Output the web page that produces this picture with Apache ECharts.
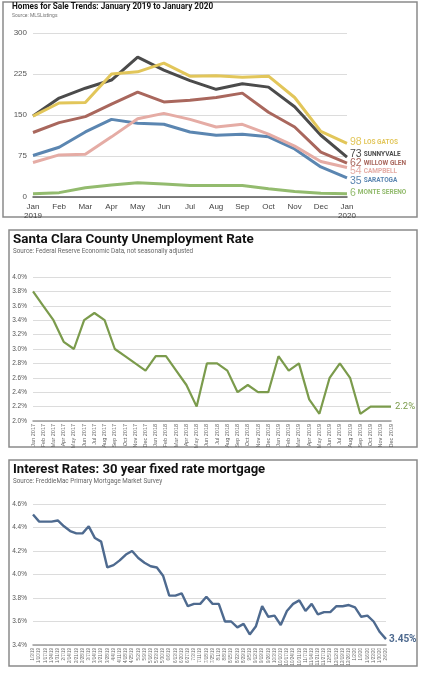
<!DOCTYPE html>
<html><head><meta charset="utf-8">
<script src="https://cdn.jsdelivr.net/npm/echarts@6/dist/echarts.min.js"></script>
<style>html,body{margin:0;padding:0;background:#fff}#c{width:424px;height:674px}</style>
</head><body><div id="c"></div>
<script>
// ---- Panel 1: Homes for sale ----
const homeMonths = ['Jan\n2019','Feb','Mar','Apr','May','Jun','Jul','Aug','Sep','Oct','Nov','Dec','Jan\n2020'];
const homeTicks = [0, 75, 150, 225, 300];
const losGatos   = [148, 172, 173, 225, 229, 245, 221, 222, 219, 221, 182, 120, 98];
const sunnyvale  = [148, 181, 199, 214, 256, 232, 213, 197, 207, 201, 165, 113, 73];
const willowGlen = [118, 136, 147, 170, 192, 174, 177, 182, 190, 155, 128, 82, 62];
const campbell   = [63, 77, 78, 110, 143, 153, 142, 128, 133, 115, 93, 65, 54];
const saratoga   = [76, 91, 119, 142, 135, 133, 119, 113, 115, 110, 88, 55, 35];
const monteSereno= [6, 8, 17, 22, 26, 24, 21, 21, 21, 15, 10, 7, 6];
const homeNames = ['LOS GATOS','SUNNYVALE','WILLOW GLEN','CAMPBELL','SARATOGA','MONTE SERENO'];

// ---- Panel 2: Unemployment ----
const unempMonths = ['Jan 2017','Feb 2017','Mar 2017','Apr 2017','May 2017','Jun 2017','Jul 2017','Aug 2017','Sep 2017','Oct 2017','Nov 2017','Dec 2017',
 'Jan 2018','Feb 2018','Mar 2018','Apr 2018','May 2018','Jun 2018','Jul 2018','Aug 2018','Sep 2018','Oct 2018','Nov 2018','Dec 2018',
 'Jan 2019','Feb 2019','Mar 2019','Apr 2019','May 2019','Jun 2019','Jul 2019','Aug 2019','Sep 2019','Oct 2019','Nov 2019','Dec 2019'];
const unempRate = [3.8,3.6,3.4,3.1,3.0,3.4,3.5,3.4,3.0,2.9,2.8,2.7,
 2.9,2.9,2.7,2.5,2.2,2.8,2.8,2.7,2.4,2.5,2.4,2.4,
 2.9,2.7,2.8,2.3,2.1,2.6,2.8,2.6,2.1,2.2,2.2,2.2];

// ---- Panel 3: Mortgage rates ----
const rateDates = ['1/3/19','1/10/19','1/17/19','1/24/19','1/31/19','2/7/19','2/14/19','2/21/19','2/28/19','3/7/19','3/14/19','3/21/19','3/28/19',
 '4/4/19','4/11/19','4/18/19','4/25/19','5/2/19','5/9/19','5/16/19','5/23/19','5/30/19','6/6/19','6/13/19','6/20/19','6/27/19',
 '7/3/19','7/11/19','7/18/19','7/25/19','8/1/19','8/8/19','8/15/19','8/22/19','8/29/19','9/5/19','9/12/19','9/19/19','9/26/19',
 '10/3/19','10/10/19','10/17/19','10/24/19','10/31/19','11/7/19','11/14/19','11/21/19','11/27/19','12/5/19','12/12/19','12/19/19','12/26/19',
 '1/2/20','1/9/20','1/16/20','1/23/20','1/30/20','2/6/20'];
const mortgageRate = [4.51,4.45,4.45,4.45,4.46,4.41,4.37,4.35,4.35,4.41,4.31,4.28,4.06,
 4.08,4.12,4.17,4.20,4.14,4.10,4.07,4.06,3.99,3.82,3.82,3.84,3.73,
 3.75,3.75,3.81,3.75,3.75,3.60,3.60,3.55,3.58,3.49,3.56,3.73,3.64,
 3.65,3.57,3.69,3.75,3.78,3.69,3.75,3.66,3.68,3.68,3.73,3.73,3.74,
 3.72,3.64,3.65,3.60,3.51,3.45];

const TF = 'Roboto, "Open Sans", sans-serif';
const AF = '"Liberation Sans Narrow", "Liberation Sans", Roboto, sans-serif';
const chart = echarts.init(document.getElementById('c'), null, {renderer:'canvas'});

const homeColors = ['#e2c65a','#4b4b4b','#a9675d','#e5aca5','#5b86b1','#93bb6e'];
const homeData = [losGatos, sunnyvale, willowGlen, campbell, saratoga, monteSereno];
const homeOffsets = [[0,-1],[0,-3],[0,0],[0,4],[0,3],[0,-1]];
const homeOrder = [5,4,3,2,1,0];
const homeSeries = homeOrder.map(i => ({
  type:'line', xAxisIndex:0, yAxisIndex:0, data: homeData[i], symbol:'none', z: 3+ (5-i),
  lineStyle:{color: homeColors[i], width:3}, itemStyle:{color: homeColors[i]},
  endLabel:{show:true, distance:3, offset: homeOffsets[i],
    formatter: p => '{n|' + p.value + '}{s|' + homeNames[i] + '}',
    rich:{
      n:{fontFamily:AF, fontSize:10.5, color: homeColors[i], padding:[0,2,0,0]},
      s:{fontFamily:TF, fontSize:6.5, fontWeight:'bold', color: homeColors[i]}
    }}
}));

const catAxisBase = (gi, data, lab) => ({
  type:'category', gridIndex: gi, data, boundaryGap:false,
  axisTick:{show:false}, axisLine:{show:true, lineStyle:{color:'#9a9a9a', width:1.5}},
  axisLabel: lab
});
const valAxisBase = (gi, min, max, interval, fmt, fs) => ({
  type:'value', gridIndex: gi, min, max, interval,
  axisLine:{show:false}, axisTick:{show:false},
  splitLine:{show:true, lineStyle:{color:'#dcdcdc', width:1}},
  axisLabel:{fontFamily:AF, fontSize:fs, color:'#555', margin:6, formatter: fmt}
});

chart.setOption({
  animation:false,
  backgroundColor:'#fff',
  title:[
    {text:'Homes for Sale Trends: January 2019 to January 2020', left:12, top:3, padding:0,
     textStyle:{fontFamily:TF, fontSize:8.2, fontWeight:'bold', color:'#111'}},
    {text:'Source: MLSListings', left:12, top:13, padding:0, textStyle:{fontFamily:TF, fontSize:5, fontWeight:'normal', color:'#777'}},
    {text:'Santa Clara County Unemployment Rate', left:13, top:233, padding:0,
     textStyle:{fontFamily:TF, fontSize:13.4, fontWeight:'bold', color:'#111'}},
    {text:'Source: Federal Reserve Economic Data, not seasonally adjusted', left:13, top:248, padding:0,
     textStyle:{fontFamily:TF, fontSize:6.3, fontWeight:'normal', color:'#666'}},
    {text:'Interest Rates: 30 year fixed rate mortgage', left:13, top:463, padding:0,
     textStyle:{fontFamily:TF, fontSize:13.1, fontWeight:'bold', color:'#111'}},
    {text:'Source: FreddieMac Primary Mortgage Market Survey', left:13, top:478, padding:0,
     textStyle:{fontFamily:TF, fontSize:6.3, fontWeight:'normal', color:'#666'}}
  ],
  graphic:[
    {type:'rect', shape:{x:3, y:2, width:414, height:215}, style:{fill:'none', stroke:'#8a8a8a', lineWidth:1.5}, silent:true},
    {type:'rect', shape:{x:9, y:230, width:408, height:217}, style:{fill:'none', stroke:'#8a8a8a', lineWidth:1.5}, silent:true},
    {type:'rect', shape:{x:9, y:460, width:408, height:206}, style:{fill:'none', stroke:'#8a8a8a', lineWidth:1.5}, silent:true}
  ],
  grid:[
    {left:33, right:77, top:33, bottom:477},
    {left:33, right:33, top:277, bottom:253},
    {left:33, right:38, top:504, bottom:29}
  ],
  xAxis:[
    Object.assign(catAxisBase(0, homeMonths, {fontFamily:AF, fontSize:8, color:'#444', margin:5, lineHeight:9, interval:0}),
      {axisLine:{show:true, lineStyle:{color:'#555', width:1.5}}}),
    catAxisBase(1, unempMonths, {fontFamily:AF, fontSize:5.5, color:'#666', rotate:90, margin:3, interval:0}),
    catAxisBase(2, rateDates, {fontFamily:AF, fontSize:4.5, color:'#666', rotate:90, margin:3, interval:0})
  ],
  yAxis:[
    valAxisBase(0, homeTicks[0], homeTicks[homeTicks.length-1], 75, v => String(v), 8),
    valAxisBase(1, 2.0, 4.0, 0.2, v => v.toFixed(1) + '%', 6.5),
    valAxisBase(2, 3.4, 4.6, 0.2, v => v.toFixed(1) + '%', 6.5)
  ],
  series: homeSeries.concat([
    {type:'line', xAxisIndex:1, yAxisIndex:1, data: unempRate, symbol:'none',
     lineStyle:{color:'#7b9b4c', width:2.2}, itemStyle:{color:'#7b9b4c'},
     endLabel:{show:true, distance:4, formatter: p => p.value.toFixed(1) + '%', fontFamily:TF, fontSize:9.5, color:'#7b9b4c'}},
    {type:'line', xAxisIndex:2, yAxisIndex:2, data: mortgageRate, symbol:'none',
     lineStyle:{color:'#4e6a8f', width:2.4}, itemStyle:{color:'#4e6a8f'},
     endLabel:{show:true, distance:3, formatter: p => p.value.toFixed(2) + '%', fontFamily:TF, fontSize:10, fontWeight:'bold', color:'#4e6a8f'}}
  ])
});
</script></body></html>
